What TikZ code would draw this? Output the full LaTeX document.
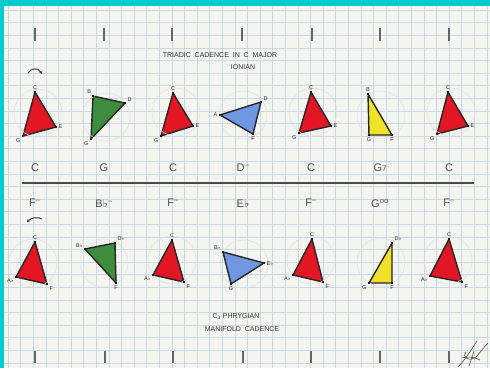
\documentclass[tikz,border=0pt]{standalone}
\usepackage{fontspec}
\setmainfont{Liberation Sans}
\newfontfamily\symf{DejaVu Sans}
\newcommand\fl{{\symf\char"266D}}
\usetikzlibrary{arrows.meta}
\pgfdeclarelayer{paper}
\pgfdeclarelayer{tri}
\pgfsetlayers{paper,tri,main}
\definecolor{cyanb}{RGB}{0,204,204}
\definecolor{paperc}{RGB}{244,244,240}
\definecolor{gridc}{RGB}{208,214,226}
\definecolor{cred}{RGB}{226,22,36}
\definecolor{cgreen}{RGB}{62,140,62}
\definecolor{cblue}{RGB}{112,152,226}
\definecolor{cyel}{RGB}{240,226,40}
\tikzset{
 v/.style={rectangle,fill=black!90,inner sep=0pt,minimum size=2.8pt},
 vl/.style={font=\fontsize{5.5}{5.5}\selectfont,text=black!85,inner sep=0.8pt},
 tri/.style={draw=black!85,line width=1.4pt,line join=round},
 circ/.style={draw=black!12,line width=0.5pt},
 chord/.style={font=\fontsize{11}{11}\selectfont,text=black!70,inner sep=0pt},
 ttl/.style={font=\fontsize{7}{7}\selectfont,text=black!80,inner sep=0pt},
 bar/.style={draw=black!60,line width=1.3pt},
 gridl/.style={draw=gridc,line width=0.5pt},
 sig/.style={draw=black!70,line width=0.6pt},
 arr/.style={draw=black!75,line width=1pt,-{Stealth[length=3pt,width=3.5pt]}}
}
\newcommand\vx[5]{\node[v,label={[vl]#4:#5}] (#1) at (#2,#3) {};}
\newcommand\trif[4]{\begin{pgfonlayer}{tri}\filldraw[tri,fill=#4] (#1.center)--(#2.center)--(#3.center)--cycle;\end{pgfonlayer}}
\begin{document}
\begin{tikzpicture}[x=1pt,y=-1pt]
\useasboundingbox (0,0) rectangle (490,368);
\begin{pgfonlayer}{paper}
\fill[cyanb] (0,0) rectangle (490,368);
\fill[paperc] (4,6) rectangle (490,368);
\foreach \x in {8,20.6,...,490} \draw[gridl] (\x,6) -- (\x,368);
\foreach \y in {10,22.6,...,368} \draw[gridl] (4,\y) -- (490,\y);
\end{pgfonlayer}
% bar ticks
\foreach \x in {35,104,172,242,312,380,449} \draw[bar] (\x,28) -- (\x,41);
\foreach \x in {35,105,173,243,311,380,449} \draw[bar] (\x,351) -- (\x,363);
% titles
\node[ttl] (t1) at (220,55) {TRIADIC\ \ CADENCE\ \ IN\ \ C\ \ MAJOR};
\node[ttl] (t2) at (243,67) {IONIAN};
\node[ttl] (t3) at (236,317) {C\textsubscript{3} PHRYGIAN};
\node[ttl] (t4) at (242,329) {MANIFOLD\ \ CADENCE};
% arrows
\coordinate (a1s) at (28,73); \coordinate (a1e) at (42,74);
\draw[arr] (a1s) .. controls (31,68) and (38,67) .. (a1e);
\coordinate (a2s) at (42,219); \coordinate (a2e) at (27,222);
\draw[arr] (a2s) .. controls (38,217) and (32,217) .. (a2e);
% circles
\foreach \cx/\cy in {38/113,106/117,176/112,243/115,313/112,381/115,451/112,
  33/263,104/263,172/260,244/264,311/260,381/262,448/260}
  \draw[circ] (\cx,\cy) circle [radius=24pt];
% top row
\vx{p1a}{35}{92}{90}{C}\vx{p1b}{56}{127}{0}{E}\vx{p1c}{23}{136}{225}{G}
\trif{p1a}{p1b}{p1c}{cred}
\vx{p2a}{93}{96}{120}{B}\vx{p2b}{125}{103}{30}{D}\vx{p2c}{91}{139}{225}{G}
\trif{p2a}{p2b}{p2c}{cgreen}
\vx{p3a}{173}{93}{90}{C}\vx{p3b}{193}{126}{0}{E}\vx{p3c}{161}{136}{225}{G}
\trif{p3a}{p3b}{p3c}{cred}
\vx{p4a}{220}{115}{180}{A}\vx{p4b}{261}{102}{30}{D}\vx{p4c}{253}{134}{270}{F}
\trif{p4a}{p4b}{p4c}{cblue}
\vx{p5a}{311}{92}{90}{C}\vx{p5b}{331}{126}{0}{E}\vx{p5c}{299}{133}{225}{G}
\trif{p5a}{p5b}{p5c}{cred}
\vx{p6a}{368}{94}{90}{B}\vx{p6b}{369}{135}{270}{G}\vx{p6c}{392}{135}{270}{F}
\trif{p6a}{p6b}{p6c}{cyel}
\vx{p7a}{448}{92}{90}{C}\vx{p7b}{468}{126}{0}{E}\vx{p7c}{437}{134}{225}{G}
\trif{p7a}{p7b}{p7c}{cred}
% bottom row
\vx{q1a}{35}{242}{90}{C}\vx{q1b}{16}{277}{200}{A\fl}\vx{q1c}{47}{284}{-45}{F}
\trif{q1a}{q1b}{q1c}{cred}
\vx{q2a}{85}{249}{150}{B\fl}\vx{q2b}{115}{243}{45}{D\fl}\vx{q2c}{116}{283}{270}{F}
\trif{q2a}{q2b}{q2c}{cgreen}
\vx{q3a}{172}{240}{90}{C}\vx{q3b}{153}{275}{200}{A\fl}\vx{q3c}{184}{282}{-45}{F}
\trif{q3a}{q3b}{q3c}{cred}
\vx{q4a}{223}{252}{135}{B\fl}\vx{q4b}{264}{263}{0}{E\fl}\vx{q4c}{231}{284}{270}{G}
\trif{q4a}{q4b}{q4c}{cblue}
\vx{q5a}{312}{239}{90}{C}\vx{q5b}{293}{275}{200}{A\fl}\vx{q5c}{323}{282}{-45}{F}
\trif{q5a}{q5b}{q5c}{cred}
\vx{q6a}{392}{243}{45}{D\fl}\vx{q6b}{369}{283}{225}{G}\vx{q6c}{392}{283}{270}{F}
\trif{q6a}{q6b}{q6c}{cyel}
\vx{q7a}{449}{239}{90}{C}\vx{q7b}{430}{276}{200}{A\fl}\vx{q7c}{462}{282}{-45}{F}
\trif{q7a}{q7b}{q7c}{cred}
% chord names
\node[chord] (c1) at (35,168) {C};
\node[chord] (c2) at (104,168) {G};
\node[chord] (c3) at (173,168) {C};
\node[chord] (c4) at (243,168) {D\textsuperscript{--}};
\node[chord] (c5) at (311,168) {C};
\node[chord] (c6) at (380,168) {G{\fontsize{8}{8}\selectfont 7}};
\node[chord] (c7) at (449,168) {C};
\coordinate (hl1) at (22,183); \coordinate (hl2) at (474,183);
\draw[draw=black!70,line width=1.4pt] (hl1) -- (hl2);
\node[chord] (d1) at (35,203) {F\textsuperscript{--}};
\node[chord] (d2) at (104,203) {B\fl\textsuperscript{--}};
\node[chord] (d3) at (173,203) {F\textsuperscript{--}};
\node[chord] (d4) at (243,203) {E\fl};
\node[chord] (d5) at (311,203) {F\textsuperscript{--}};
\node[chord] (d6) at (380,203) {G\textsuperscript{oo}};
\node[chord] (d7) at (449,203) {F\textsuperscript{--}};
% signature
\draw[sig] (458,367) .. controls (465,360) and (471,350) .. (477,341);
\draw[sig] (466,352) .. controls (461,357) and (470,363) .. (477,356) .. controls (481,351) and (485,346) .. (488,343);
\draw[sig] (469,366) -- (474,351);
\draw[sig] (462,358) .. controls (468,356) and (474,357) .. (480,360);
\end{tikzpicture}
\end{document}
